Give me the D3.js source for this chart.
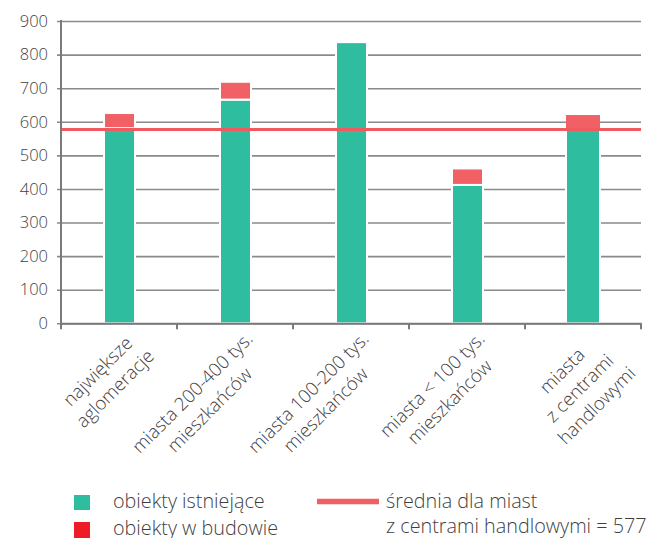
<!DOCTYPE html>
<html><head><meta charset="utf-8">
<script src="https://cdn.jsdelivr.net/npm/d3@7"></script>
<style>
body{margin:0;background:#fff;}
svg{display:block;font-family:"Open Sans",Lato,sans-serif;font-weight:300;}
</style></head>
<body><svg id="c" width="659" height="538"></svg>
<script>
const categories = [
  ["największe","aglomeracje"],
  ["miasta 200-400 tys.","mieszkańców"],
  ["miasta 100-200 tys.","mieszkańców"],
  ["miasta < 100 tys.","mieszkańców"],
  ["miasta","z centrami","handlowymi"]
];
const existing = [581, 666, 837, 412, 577];
const underConstruction = [45, 53, 0, 49, 43];
const average = 577;
const yTicks = [0,100,200,300,400,500,600,700,800,900];
const legendBars = ["obiekty istniejące","obiekty w budowie"];
const legendLine = ["średnia dla miast","z centrami handlowymi = 577"];

const svg = d3.select("#c");
const keys = categories.map((c,i)=>"c"+i);
const x = d3.scaleBand().domain(keys).range([61,641]).padding(0);
const y = d3.scaleLinear().domain([0,900]).range([323.3,21]);
const textCol = "#3f3f3f", gridCol = "#8a8a8a";
const green = "#2ebd9e", red = "#f06064", lineRed = "#ee5a5e";

// gridlines
const yAxis = d3.axisLeft(y).tickValues(yTicks).tickSize(-584).tickPadding(13).tickSizeOuter(0);
const gy = svg.append("g").attr("transform","translate(61,0)").call(yAxis);
gy.select(".domain").remove();
gy.selectAll(".tick line").attr("x1",-4).attr("x2",580).attr("stroke",gridCol).attr("stroke-width",1.6);
gy.selectAll(".tick text").attr("fill",textCol).style("font-size","16.5px").attr("font-family","Open Sans");

// bars
const barW = [31,31,31,31,34];
const bars = svg.append("g");
categories.forEach((c,i)=>{
  const cx = x(keys[i]) + x.bandwidth()/2 + (i===4?0:0.5);
  const w = barW[i];
  bars.append("rect").attr("x",cx-w/2).attr("width",w)
    .attr("y",y(existing[i])).attr("height",y(0)-y(existing[i]))
    .attr("fill",green).attr("stroke","#fff").attr("stroke-width",2);
  if(underConstruction[i]>0){
    const top = existing[i]+underConstruction[i];
    bars.append("rect").attr("x",cx-w/2).attr("width",w)
      .attr("y",y(top)).attr("height",y(existing[i])-y(top))
      .attr("fill",red).attr("stroke","#fff").attr("stroke-width",i===4?0:2);
  }
});

// axes lines
svg.append("line").attr("x1",61).attr("x2",61).attr("y1",y(900)-1).attr("y2",y(0)+1).attr("stroke","#7a7a7a").attr("stroke-width",2);
const xAxis = d3.axisBottom(x).tickValues([]).tickSizeOuter(0);
const gx = svg.append("g").attr("transform",`translate(0,${y(0)})`).call(xAxis);
gx.select(".domain").attr("stroke","#7a7a7a").attr("stroke-width",2);
const bounds = keys.map(k=>x(k)).concat([x.range()[1]]);
gx.selectAll(".tk").data(bounds).join("line").attr("class","tk")
  .attr("x1",d=>d).attr("x2",d=>d).attr("y1",0).attr("y2",6).attr("stroke","#7a7a7a").attr("stroke-width",2);

// average line
svg.append("line").attr("x1",62).attr("x2",641).attr("y1",y(average)).attr("y2",y(average))
  .attr("stroke",lineRed).attr("stroke-width",3.2);

// x labels
const fs = 18.5, lh = 24.5;
categories.forEach((lines,i)=>{
  const cx = x(keys[i]) + x.bandwidth()/2;
  const g = svg.append("g").attr("transform",`translate(${cx+6},327) rotate(-45)`);
  const ts = lines.map((l,j)=>g.append("text").text(l).attr("fill",textCol)
      .style("font-size",fs+"px").attr("text-anchor","middle")
      .attr("y", lh*(j+0.5)+0.33*fs));
  const maxW = d3.max(ts,t=>t.node().getComputedTextLength());
  ts.forEach(t=>t.attr("x",-maxW/2));
});

// legend
const lg = svg.append("g");
lg.append("rect").attr("x",74).attr("y",495).attr("width",16).attr("height",15).attr("fill",green);
lg.append("rect").attr("x",74).attr("y",522).attr("width",16).attr("height",16).attr("fill","#ed1c24");
legendBars.forEach((t,j)=>lg.append("text").attr("x",113).attr("y",508+27*j).text(t)
  .attr("fill",textCol).style("font-size","19.8px"));
lg.append("line").attr("x1",317).attr("x2",379).attr("y1",501.5).attr("y2",501.5).attr("stroke","#ef5f64").attr("stroke-width",5.5);
legendLine.forEach((t,j)=>lg.append("text").attr("x",386).attr("y",508+25*j).text(t)
  .attr("fill",textCol).style("font-size","19.8px"));
</script></body></html>
